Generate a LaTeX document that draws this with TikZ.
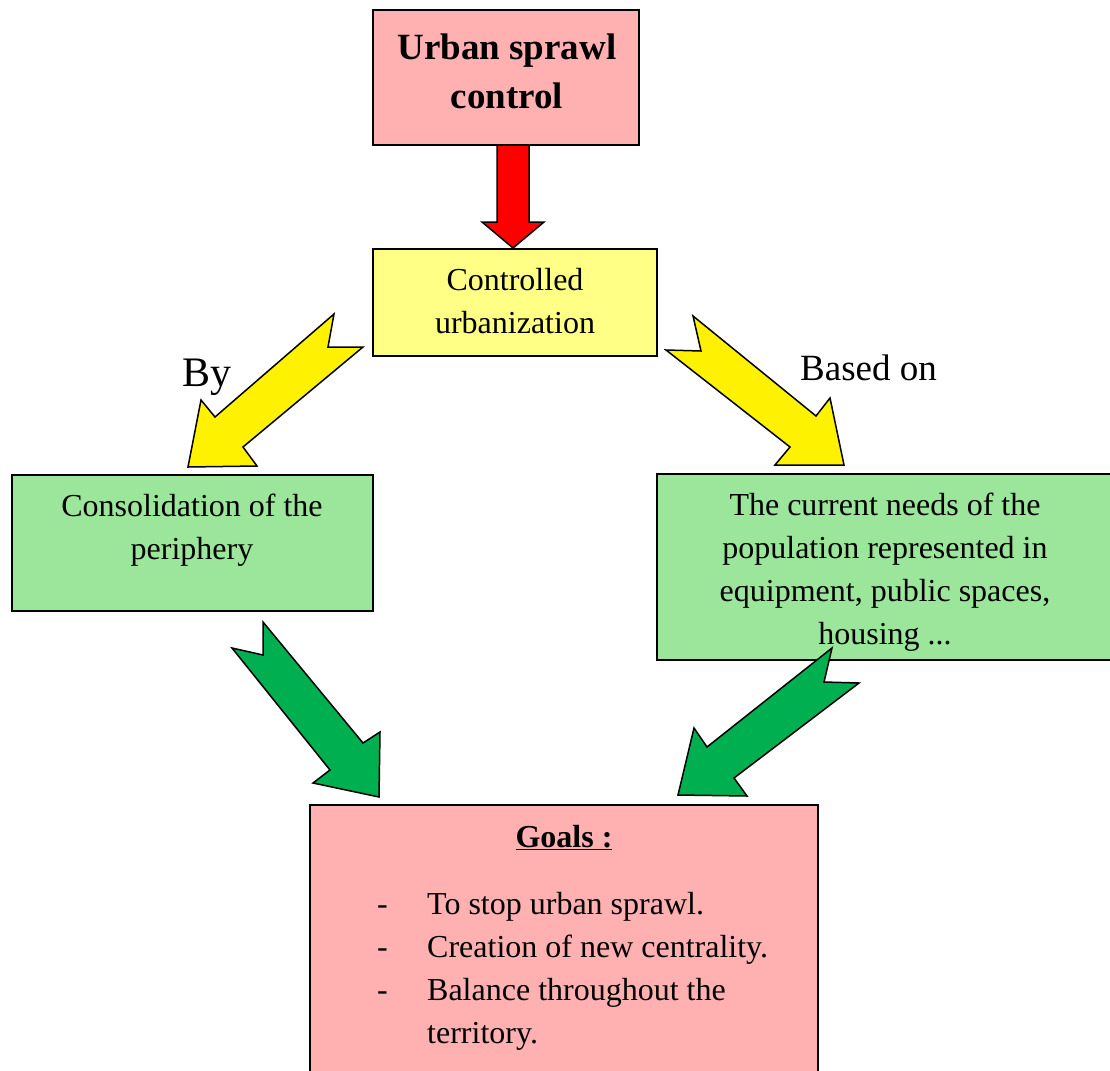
\documentclass[tikz,border=0pt]{standalone}
\usepackage{fontspec}
\setmainfont{Liberation Serif}
\definecolor{boxpink}{RGB}{255,177,177}
\definecolor{boxyellow}{RGB}{255,255,133}
\definecolor{boxgreen}{RGB}{155,230,155}
\definecolor{arrowgreen}{RGB}{0,176,80}
\begin{document}
\begin{tikzpicture}[x=1pt,y=-1pt,
  box/.style={draw=black, line width=1.5pt, rectangle, inner sep=0pt},
  blockarrow/.style={draw=black, line width=1.5pt, line join=miter},
  txt/.style={inner sep=0pt, align=center, font=\fontsize{32}{43}\selectfont},
]
\useasboundingbox (0,0) rectangle (1110,1070);

% boxes
\node[box, fill=boxpink, minimum width=266, minimum height=135] (topbox) at (506,77.5) {};
\node[box, fill=boxyellow, minimum width=284, minimum height=107] (yelbox) at (515,302.5) {};
\node[box, fill=boxgreen, minimum width=361, minimum height=136] (lgbox) at (192.5,543) {};
\node[box, fill=boxgreen, minimum width=455, minimum height=186] (rgbox) at (884.5,567) {};
\node[box, fill=boxpink, minimum width=508, minimum height=267] (goalbox) at (564,938.5) {};

% texts
\node[txt, font=\bfseries\fontsize{37}{49}\selectfont] (toptxt) at (507,71.5) {Urban sprawl\\control};
\node[txt] (yeltxt) at (515,301) {Controlled\\urbanization};
\node[txt] (lgtxt) at (192,530) {Consolidation of the\\periphery};
\node[txt] (rgtxt) at (885,572.5) {The current needs of the\\population represented in\\equipment, public spaces,\\housing ...};
\node[inner sep=0pt, anchor=base, font=\bfseries\fontsize{32}{43}\selectfont] (goalstitle) at (564,847) {\underline{Goals :}};
\node[txt, align=left, anchor=west] (goalslist) at (377,971) {\makebox[50pt][l]{-}To stop urban sprawl.\\\makebox[50pt][l]{-}Creation of new centrality.\\\makebox[50pt][l]{-}Balance throughout the\\\hspace*{50pt}territory.};
\node[inner sep=0pt, anchor=base, font=\fontsize{42}{50}\selectfont] (by) at (207,386) {By};
\node[inner sep=0pt, anchor=base, font=\fontsize{37}{44}\selectfont] (basedon) at (868.5,380) {Based on};

% block arrows
\draw[blockarrow, fill=red] (497,145) -- (497,222) -- (482,222) -- (513,248) -- (544,222) -- (529,222) -- (529,145) -- cycle;
\draw[blockarrow, fill=yellow] (334,314) -- (328,347) -- (363,347) -- (243,447) -- (257,466) -- (188,467) -- (201,400) -- (215,417) -- cycle;
\draw[blockarrow, fill=yellow] (693,316) -- (701,351) -- (666,350) -- (790,447) -- (775,465) -- (844,465) -- (830,398) -- (816,416) -- cycle;
\draw[blockarrow, fill=arrowgreen] (263,622) -- (263,655) -- (232,648) -- (330,770) -- (313,783) -- (379,797) -- (380,732) -- (363,743) -- cycle;
\draw[blockarrow, fill=arrowgreen] (832,648) -- (824,682) -- (859,683) -- (734,778) -- (747,796) -- (678,795) -- (694,728) -- (707,747) -- cycle;
\end{tikzpicture}
\end{document}
